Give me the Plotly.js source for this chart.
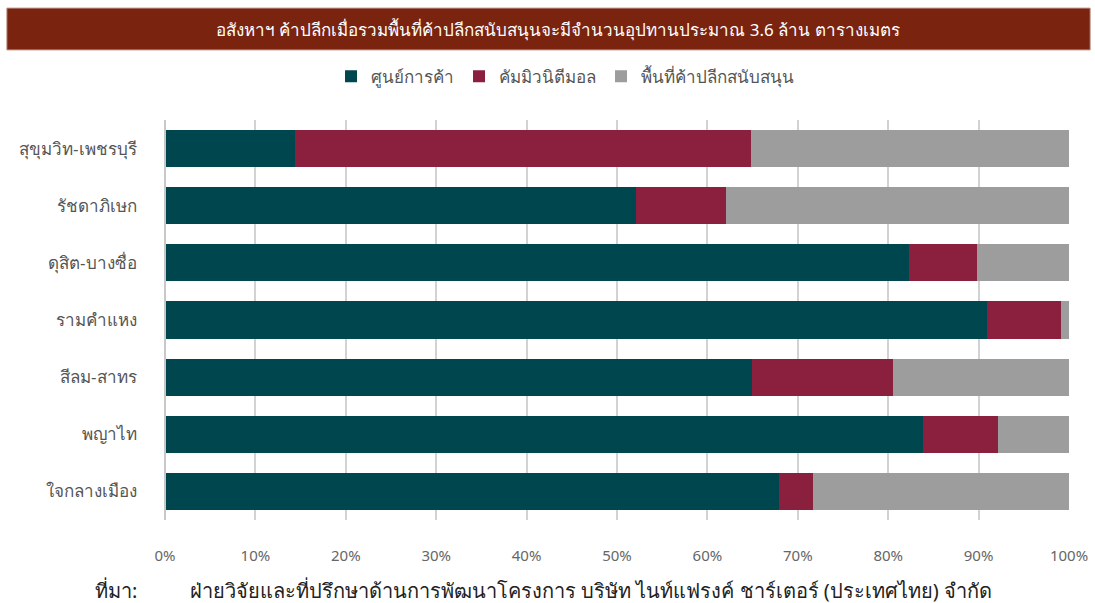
<!DOCTYPE html>
<html>
<head>
<meta charset="utf-8">
<script src="https://cdn.plot.ly/plotly-3.0.1.min.js"></script>
<style>
html,body{margin:0;padding:0;background:#fff;}
#chart{width:1095px;height:603px;}
</style>
</head>
<body>
<div id="chart"></div>
<script>
const categories = ["สุขุมวิท-เพชรบุรี","รัชดาภิเษก","ดุสิต-บางซื่อ","รามคำแหง","สีลม-สาทร","พญาไท","ใจกลางเมือง"];
const seriesNames = ["ศูนย์การค้า","คัมมิวนิตีมอล","พื้นที่ค้าปลีกสนับสนุน"];
const shoppingCenter = [14.4, 52.1, 82.3, 90.9, 64.9, 83.8, 67.9];
const communityMall = [50.4, 10.0, 7.5, 8.2, 15.6, 8.4, 3.8];
const supportRetail = [35.2, 37.9, 10.2, 0.9, 19.5, 7.8, 28.3];
const tickVals = [0,10,20,30,40,50,60,70,80,90,100];
const tickText = ["0%","10%","20%","30%","40%","50%","60%","70%","80%","90%","100%"];
const titleText = "อสังหาฯ ค้าปลีกเมื่อรวมพื้นที่ค้าปลีกสนับสนุนจะมีจำนวนอุปทานประมาณ 3.6 ล้าน ตารางเมตร";
const sourceLabel = "ที่มา:";
const sourceText = "ฝ่ายวิจัยและที่ปรึกษาด้านการพัฒนาโครงการ บริษัท ไนท์แฟรงค์ ชาร์เตอร์ (ประเทศไทย) จำกัด";

const colors = ["#00464f","#8a1f3e","#9d9d9d"];
const seriesValues = [shoppingCenter, communityMall, supportRetail];
const FONT = "Noto Sans, sans-serif";

const data = seriesValues.map((vals,i)=>({
  type:"bar", orientation:"h",
  name: seriesNames[i],
  x: vals, y: categories,
  marker:{color: colors[i], line:{width:0}},
  hoverinfo:"x+y+name"
}));

const layout = {
  width:1095, height:603,
  paper_bgcolor:"#fff", plot_bgcolor:"#fff",
  barmode:"stack", bargap:0.35,
  margin:{l:165, r:26, t:120, b:83},
  font:{family:FONT, color:"#555"},
  showlegend:true,
  legend:{orientation:"h", x:0.4425, xanchor:"center", y:1.108, yanchor:"middle",
          font:{size:17, color:"#555"}, traceorder:"normal"},
  xaxis:{range:[0,100], tickvals:tickVals, ticktext:tickText,
         showgrid:true, gridcolor:"#d2d2d2", gridwidth:2,
         zeroline:false, showline:false,
         ticks:"outside", ticklen:22, tickcolor:"rgba(0,0,0,0)",
         tickfont:{size:15, color:"#666"}, fixedrange:true},
  yaxis:{autorange:"reversed", showgrid:false, zeroline:false, showline:false,
         ticks:"outside", ticklen:24, tickcolor:"rgba(0,0,0,0)",
         tickfont:{size:17, color:"#555"}, fixedrange:true},
  shapes:[
    {type:"rect", xref:"paper", yref:"paper", x0:-0.175, x1:1.0235, y0:1.175, y1:1.28,
     fillcolor:"#7a2410", line:{width:1, color:"#c9a79f"}, layer:"above"},
    {type:"line", xref:"paper", yref:"paper", x0:0, x1:0, y0:0, y1:1,
     line:{color:"#c8c8c8", width:2}}
  ],
  annotations:[
    {text:titleText, xref:"paper", yref:"paper", x:0.435, y:1.227, xanchor:"center", yanchor:"middle",
     showarrow:false, font:{size:17, color:"#fff", family:FONT}},
    {text:sourceLabel, xref:"paper", yref:"paper", x:-0.08, y:-0.175, xanchor:"left", yanchor:"middle",
     showarrow:false, font:{size:20, color:"#222", family:FONT}},
    {text:sourceText, xref:"paper", yref:"paper", x:0.025, y:-0.175, xanchor:"left", yanchor:"middle",
     showarrow:false, font:{size:20, color:"#222", family:FONT}}
  ]
};

Plotly.newPlot("chart", data, layout, {displayModeBar:false, staticPlot:true});
</script>
</body>
</html>
